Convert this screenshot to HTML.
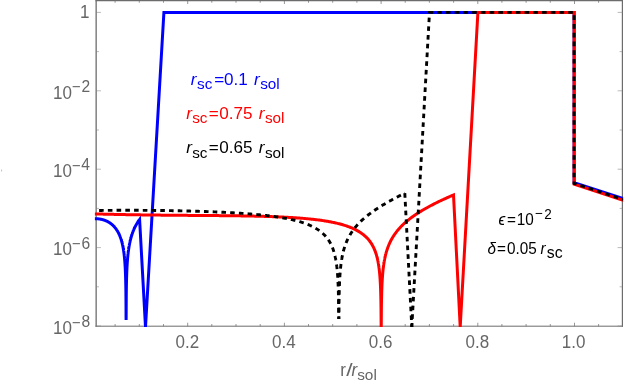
<!DOCTYPE html>
<html><head><meta charset="utf-8">
<style>
html,body{margin:0;padding:0;background:#fff;}
svg{display:block;font-family:"Liberation Sans",sans-serif;}
</style></head><body>
<svg width="629" height="384" viewBox="0 0 629 384">
<rect width="629" height="384" fill="#fff"/>
<defs><filter id="tf" x="0" y="0" width="629" height="384" filterUnits="userSpaceOnUse" color-interpolation-filters="sRGB"><feOffset dx="0" dy="0"/></filter><clipPath id="c"><rect x="94.80000000000001" y="0.0" width="528.3000000000001" height="327.1"/></clipPath></defs>
<g stroke="#6c6c6c" fill="none">
<line x1="96.15" y1="0" x2="96.15" y2="326.7" stroke-width="1.3"/>
<line x1="622.4" y1="0" x2="622.4" y2="326.7" stroke-width="1.2"/>
<line x1="95.5" y1="0.55" x2="623" y2="0.55" stroke-width="1.2"/>
<line x1="95.5" y1="326.2" x2="623" y2="326.2" stroke-width="1.0"/>
</g>
<path d="M115.1 326.2 v-2.2 M115.1 0.55 v2.2 M139.3 326.2 v-2.2 M139.3 0.55 v2.2 M163.5 326.2 v-2.2 M163.5 0.55 v2.2 M187.7 326.2 v-3.5 M187.7 0.55 v3.5 M211.8 326.2 v-2.2 M211.8 0.55 v2.2 M236.0 326.2 v-2.2 M236.0 0.55 v2.2 M260.2 326.2 v-2.2 M260.2 0.55 v2.2 M284.4 326.2 v-3.5 M284.4 0.55 v3.5 M308.5 326.2 v-2.2 M308.5 0.55 v2.2 M332.7 326.2 v-2.2 M332.7 0.55 v2.2 M356.9 326.2 v-2.2 M356.9 0.55 v2.2 M381.1 326.2 v-3.5 M381.1 0.55 v3.5 M405.2 326.2 v-2.2 M405.2 0.55 v2.2 M429.4 326.2 v-2.2 M429.4 0.55 v2.2 M453.6 326.2 v-2.2 M453.6 0.55 v2.2 M477.8 326.2 v-3.5 M477.8 0.55 v3.5 M501.9 326.2 v-2.2 M501.9 0.55 v2.2 M526.1 326.2 v-2.2 M526.1 0.55 v2.2 M550.3 326.2 v-2.2 M550.3 0.55 v2.2 M574.5 326.2 v-3.5 M574.5 0.55 v3.5 M598.6 326.2 v-2.2 M598.6 0.55 v2.2" stroke="#6c6c6c" stroke-width="0.7" fill="none"/>
<path d="M96.15 12.4 h4.8 M622.4 12.4 h-4.8 M96.15 51.6 h2.8 M622.4 51.6 h-2.8 M96.15 90.8 h4.8 M622.4 90.8 h-4.8 M96.15 130.0 h2.8 M622.4 130.0 h-2.8 M96.15 169.2 h4.8 M622.4 169.2 h-4.8 M96.15 208.4 h2.8 M622.4 208.4 h-2.8 M96.15 247.6 h4.8 M622.4 247.6 h-4.8 M96.15 286.8 h2.8 M622.4 286.8 h-2.8 M96.15 326.0 h4.8 M622.4 326.0 h-4.8" stroke="#808080" stroke-width="0.55" fill="none"/>
<g clip-path="url(#c)" fill="none" stroke-linejoin="miter" stroke-miterlimit="6">
<polyline points="94.50,218.66 94.61,218.66 94.73,218.66 94.84,218.66 94.95,218.66 95.07,218.66 95.18,218.66 95.29,218.66 95.40,218.66 95.52,218.67 95.63,218.67 95.74,218.67 95.86,218.68 95.97,218.68 96.08,218.69 96.20,218.69 96.31,218.70 96.42,218.70 96.53,218.71 96.65,218.71 96.76,218.72 96.87,218.73 96.99,218.73 97.10,218.74 97.21,218.75 97.33,218.76 97.44,218.77 97.55,218.78 97.66,218.79 97.78,218.80 97.89,218.81 98.00,218.82 98.12,218.83 98.23,218.84 98.34,218.86 98.46,218.87 98.57,218.88 98.68,218.90 98.80,218.91 98.91,218.92 99.02,218.94 99.13,218.95 99.25,218.97 99.36,218.99 99.47,219.00 99.59,219.02 99.70,219.04 99.81,219.06 99.93,219.07 100.04,219.09 100.15,219.11 100.26,219.13 100.38,219.15 100.49,219.17 100.60,219.19 100.72,219.22 100.83,219.24 100.94,219.26 101.06,219.28 101.17,219.31 101.28,219.33 101.39,219.36 101.51,219.38 101.62,219.41 101.73,219.43 101.85,219.46 101.96,219.49 102.07,219.51 102.19,219.54 102.30,219.57 102.41,219.60 102.53,219.63 102.64,219.66 102.75,219.69 102.86,219.72 102.98,219.75 103.09,219.79 103.20,219.82 103.32,219.85 103.43,219.89 103.54,219.92 103.66,219.96 103.77,219.99 103.88,220.03 103.99,220.06 104.11,220.10 104.22,220.14 104.33,220.18 104.45,220.22 104.56,220.26 104.67,220.30 104.79,220.34 104.90,220.38 105.01,220.42 105.13,220.47 105.24,220.51 105.35,220.55 105.46,220.60 105.58,220.64 105.69,220.69 105.80,220.74 105.92,220.78 106.03,220.83 106.14,220.88 106.26,220.93 106.37,220.98 106.48,221.03 106.59,221.08 106.71,221.13 106.82,221.19 106.93,221.24 107.05,221.29 107.16,221.35 107.27,221.41 107.39,221.46 107.50,221.52 107.61,221.58 107.72,221.64 107.84,221.70 107.95,221.76 108.06,221.82 108.18,221.88 108.29,221.94 108.40,222.01 108.52,222.07 108.63,222.14 108.74,222.20 108.86,222.27 108.97,222.34 109.08,222.41 109.19,222.48 109.31,222.55 109.42,222.62 109.53,222.69 109.65,222.76 109.76,222.84 109.87,222.91 109.99,222.99 110.10,223.07 110.21,223.15 110.32,223.22 110.44,223.30 110.55,223.39 110.66,223.47 110.78,223.55 110.89,223.64 111.00,223.72 111.12,223.81 111.23,223.90 111.34,223.98 111.45,224.07 111.57,224.17 111.68,224.26 111.79,224.35 111.91,224.45 112.02,224.54 112.13,224.64 112.25,224.74 112.36,224.84 112.47,224.94 112.59,225.04 112.70,225.14 112.81,225.25 112.92,225.35 113.04,225.46 113.15,225.57 113.26,225.68 113.38,225.79 113.49,225.91 113.60,226.02 113.72,226.14 113.83,226.26 113.94,226.37 114.05,226.50 114.17,226.62 114.28,226.74 114.39,226.87 114.51,227.00 114.62,227.13 114.73,227.26 114.85,227.39 114.96,227.53 115.07,227.66 115.18,227.80 115.30,227.94 115.41,228.09 115.52,228.23 115.64,228.38 115.75,228.53 115.86,228.68 115.98,228.83 116.09,228.99 116.20,229.15 116.32,229.31 116.43,229.47 116.54,229.63 116.65,229.80 116.77,229.97 116.88,230.15 116.99,230.32 117.11,230.50 117.22,230.68 117.33,230.86 117.45,231.05 117.56,231.24 117.67,231.44 117.78,231.63 117.90,231.83 118.01,232.03 118.12,232.24 118.24,232.45 118.35,232.67 118.46,232.88 118.58,233.10 118.69,233.33 118.80,233.56 118.92,233.79 119.03,234.03 119.14,234.27 119.25,234.52 119.37,234.77 119.48,235.03 119.59,235.29 119.71,235.56 119.82,235.83 119.93,236.11 120.05,236.39 120.16,236.69 120.27,236.98 120.38,237.29 120.50,237.60 120.61,237.91 120.72,238.24 120.84,238.57 120.95,238.91 121.06,239.26 121.18,239.61 121.26,239.90 121.29,239.98 121.31,240.06 121.36,240.22 121.40,240.36 121.41,240.38 121.46,240.55 121.51,240.71 121.51,240.74 121.56,240.88 121.60,241.05 121.63,241.14 121.65,241.22 121.70,241.40 121.74,241.55 121.75,241.57 121.80,241.75 121.85,241.93 121.85,241.96 121.89,242.11 121.94,242.30 121.97,242.40 121.99,242.49 122.04,242.68 122.08,242.84 122.09,242.87 122.14,243.06 122.18,243.26 122.19,243.30 122.23,243.46 122.28,243.66 122.31,243.77 122.33,243.86 122.38,244.07 122.42,244.26 122.43,244.28 122.47,244.50 122.52,244.71 122.53,244.76 122.57,244.93 122.62,245.16 122.65,245.28 122.67,245.38 122.72,245.61 122.76,245.82 122.76,245.85 122.81,246.08 122.86,246.32 122.87,246.38 122.91,246.57 122.96,246.82 122.98,246.96 123.01,247.07 123.05,247.33 123.10,247.56 123.10,247.59 123.15,247.85 123.20,248.12 123.21,248.19 123.25,248.40 123.30,248.68 123.32,248.84 123.34,248.96 123.39,249.25 123.44,249.52 123.44,249.55 123.49,249.85 123.54,250.15 123.55,250.23 123.59,250.47 123.63,250.79 123.66,250.98 123.68,251.11 123.73,251.44 123.78,251.76 123.78,251.78 123.83,252.13 123.88,252.49 123.89,252.58 123.92,252.85 123.97,253.22 124.00,253.45 124.02,253.60 124.07,253.99 124.11,254.36 124.12,254.39 124.17,254.80 124.21,255.22 124.23,255.34 124.26,255.65 124.31,256.09 124.34,256.37 124.36,256.55 124.41,257.02 124.45,257.48 124.46,257.50 124.50,258.00 124.55,258.51 124.57,258.66 124.60,259.04 124.65,259.59 124.68,259.94 124.70,260.16 124.75,260.74 124.79,261.33 124.79,261.35 124.84,261.98 124.89,262.64 124.91,262.84 124.94,263.32 124.99,264.04 125.02,264.51 125.04,264.79 125.08,265.57 125.13,266.37 125.13,266.39 125.18,267.25 125.23,268.16 125.24,268.46 125.28,269.12 125.33,270.14 125.36,270.85 125.37,271.23 125.42,272.40 125.47,273.63 125.47,273.65 125.52,275.00 125.57,276.47 125.58,276.98 125.62,278.08 125.66,279.87 125.70,281.17 125.71,281.86 125.76,284.13 125.81,286.74 125.81,286.75 125.86,289.83 125.91,293.62 125.92,295.13 125.95,298.51 126.00,305.40 126.04,312.45 126.05,317.19 126.10,320.00 126.10,320.00 126.15,317.17 126.15,316.90 126.20,305.36 126.25,298.45 126.26,296.55 126.29,293.54 126.34,289.73 126.38,287.52 126.39,286.62 126.44,283.99 126.49,281.70 126.49,281.64 126.54,279.69 126.58,277.89 126.60,277.27 126.63,276.25 126.68,274.76 126.71,273.78 126.73,273.39 126.78,272.12 126.83,270.93 126.83,270.89 126.87,269.83 126.92,268.78 126.94,268.40 126.97,267.80 127.02,266.87 127.05,266.23 127.07,265.99 127.12,265.15 127.16,264.35 127.17,264.30 127.21,263.58 127.26,262.85 127.28,262.57 127.31,262.14 127.36,261.47 127.39,260.99 127.41,260.81 127.45,260.19 127.50,259.58 127.51,259.54 127.55,258.99 127.60,258.43 127.62,258.20 127.65,257.88 127.70,257.34 127.73,256.96 127.74,256.83 127.79,256.32 127.84,255.83 127.84,255.79 127.89,255.36 127.94,254.90 127.96,254.70 127.99,254.44 128.03,254.00 128.07,253.68 128.08,253.58 128.13,253.16 128.18,252.75 128.18,252.71 128.23,252.35 128.28,251.96 128.30,251.79 128.32,251.57 128.37,251.20 128.41,250.91 128.42,250.83 128.47,250.47 128.52,250.12 128.52,250.08 128.57,249.77 128.61,249.43 128.64,249.28 128.66,249.10 128.71,248.77 128.75,248.52 128.76,248.45 128.81,248.14 128.86,247.83 128.86,247.79 128.90,247.52 128.95,247.22 128.97,247.09 129.00,246.93 129.05,246.64 129.09,246.41 129.10,246.35 129.15,246.07 129.19,245.80 129.20,245.76 129.24,245.52 129.29,245.26 129.31,245.13 129.34,244.99 129.39,244.73 129.43,244.52 129.44,244.47 129.48,244.22 129.53,243.97 129.54,243.93 129.58,243.72 129.63,243.48 129.65,243.36 129.68,243.24 129.73,243.01 129.77,242.81 129.77,242.77 129.82,242.54 129.87,242.31 129.88,242.28 129.92,242.09 129.97,241.87 129.99,241.76 130.02,241.65 130.06,241.43 130.11,241.25 130.11,241.22 130.16,241.00 130.21,240.80 130.22,240.76 130.26,240.59 130.31,240.38 130.33,240.28 130.35,240.18 130.40,239.98 130.44,239.81 130.45,239.78 130.50,239.59 130.55,239.39 130.56,239.36 130.60,239.20 130.64,239.01 130.67,238.91 130.69,238.82 130.74,238.64 130.78,238.48 130.79,238.45 130.84,238.27 130.89,238.09 130.90,238.06 130.94,237.91 131.01,237.64 131.12,237.24 131.24,236.84 131.35,236.45 131.46,236.07 131.57,235.70 131.69,235.34 131.80,234.98 131.91,234.63 132.03,234.29 132.14,233.95 132.25,233.62 132.37,233.29 132.48,232.97 132.59,232.66 132.71,232.35 132.82,232.04 132.93,231.74 133.04,231.45 133.16,231.16 133.27,230.88 133.38,230.59 133.50,230.32 133.61,230.05 133.72,229.78 133.84,229.51 133.95,229.25 134.06,228.99 134.17,228.74 134.29,228.49 134.40,228.24 134.51,228.00 134.63,227.76 134.74,227.52 134.85,227.29 134.97,227.06 135.08,226.83 135.19,226.60 135.30,226.38 135.42,226.16 135.53,225.95 135.64,225.73 135.76,225.52 135.87,225.31 135.98,225.10 136.10,224.90 136.21,224.69 136.32,224.49 136.44,224.30 136.55,224.10 136.66,223.91 136.77,223.71 136.89,223.52 137.00,223.34 137.11,223.15 137.23,222.97 137.34,222.79 137.45,222.61 137.57,222.43 137.68,222.25 137.79,222.08 137.90,221.90 138.02,221.73 138.13,221.56 138.24,221.40 138.36,221.23 138.47,221.06 138.58,220.90 138.70,220.74 138.81,220.58 138.92,220.42 139.03,220.26 139.15,220.11 139.26,219.95 139.37,219.80 139.49,219.65 139.60,219.50 145.50,326.80 163.90,12.40 574.10,12.40 574.10,182.60 624.00,198.90" stroke="#0000ff" stroke-width="3.0"/>
<polyline points="94.50,213.89 95.40,213.91 96.30,213.94 97.20,213.96 98.10,213.99 99.00,214.01 99.90,214.04 100.80,214.06 101.70,214.09 102.60,214.11 103.50,214.13 104.40,214.16 105.30,214.18 106.20,214.20 107.10,214.22 108.00,214.24 108.90,214.27 109.80,214.29 110.70,214.31 111.60,214.33 112.49,214.35 113.39,214.37 114.29,214.39 115.19,214.41 116.09,214.43 116.99,214.45 117.89,214.47 118.79,214.49 119.69,214.51 120.59,214.52 121.49,214.54 122.39,214.56 123.29,214.58 124.19,214.59 125.09,214.61 125.99,214.63 126.89,214.65 127.79,214.66 128.69,214.68 129.59,214.69 130.49,214.71 131.39,214.73 132.29,214.74 133.19,214.76 134.09,214.77 134.99,214.79 135.89,214.80 136.79,214.81 137.69,214.83 138.59,214.84 139.49,214.86 140.39,214.87 141.29,214.88 142.19,214.90 143.09,214.91 143.99,214.92 144.89,214.94 145.79,214.95 146.69,214.96 147.59,214.97 148.48,214.98 149.38,215.00 150.28,215.01 151.18,215.02 152.08,215.03 152.98,215.04 153.88,215.05 154.78,215.06 155.68,215.07 156.58,215.08 157.48,215.09 158.38,215.10 159.28,215.11 160.18,215.12 161.08,215.13 161.98,215.14 162.88,215.15 163.78,215.16 164.68,215.17 165.58,215.18 166.48,215.19 167.38,215.20 168.28,215.21 169.18,215.22 170.08,215.22 170.98,215.23 171.88,215.24 172.78,215.25 173.68,215.26 174.58,215.26 175.48,215.27 176.38,215.28 177.28,215.29 178.18,215.30 179.08,215.30 179.98,215.31 180.88,215.32 181.78,215.33 182.68,215.33 183.58,215.34 184.47,215.35 185.37,215.35 186.27,215.36 187.17,215.37 188.07,215.38 188.97,215.38 189.87,215.39 190.77,215.40 191.67,215.40 192.57,215.41 193.47,215.42 194.37,215.42 195.27,215.43 196.17,215.44 197.07,215.44 197.97,215.45 198.87,215.46 199.77,215.46 200.67,215.47 201.57,215.48 202.47,215.49 203.37,215.49 204.27,215.50 205.17,215.51 206.07,215.51 206.97,215.52 207.87,215.53 208.77,215.53 209.67,215.54 210.57,215.55 211.47,215.56 212.37,215.56 213.27,215.57 214.17,215.58 215.07,215.59 215.97,215.60 216.87,215.60 217.77,215.61 218.67,215.62 219.57,215.63 220.46,215.64 221.36,215.64 222.26,215.65 223.16,215.66 224.06,215.67 224.96,215.68 225.86,215.69 226.76,215.70 227.66,215.71 228.56,215.72 229.46,215.73 230.36,215.74 231.26,215.75 232.16,215.76 233.06,215.77 233.96,215.78 234.86,215.80 235.76,215.81 236.66,215.82 237.56,215.83 238.46,215.85 239.36,215.86 240.26,215.87 241.16,215.89 242.06,215.90 242.96,215.91 243.86,215.93 244.76,215.94 245.66,215.96 246.56,215.97 247.46,215.99 248.36,216.01 249.26,216.02 250.16,216.04 251.06,216.06 251.96,216.08 252.86,216.10 253.76,216.11 254.66,216.13 255.56,216.15 256.45,216.18 257.35,216.20 258.25,216.22 259.15,216.24 260.05,216.26 260.95,216.29 261.85,216.31 262.75,216.33 263.65,216.36 264.55,216.38 265.45,216.41 266.35,216.44 267.25,216.47 268.15,216.49 269.05,216.52 269.95,216.55 270.85,216.58 271.75,216.61 272.65,216.65 273.55,216.68 274.45,216.71 275.35,216.75 276.25,216.78 277.15,216.82 278.05,216.86 278.95,216.89 279.85,216.93 280.75,216.97 281.65,217.01 282.55,217.06 283.45,217.10 284.35,217.14 285.25,217.19 286.15,217.24 287.05,217.28 287.95,217.33 288.85,217.38 289.75,217.43 290.65,217.49 291.55,217.54 292.44,217.60 293.34,217.65 294.24,217.71 295.14,217.77 296.04,217.83 296.94,217.89 297.84,217.96 298.74,218.02 299.64,218.09 300.54,218.16 301.44,218.23 302.34,218.30 303.24,218.38 304.14,218.46 305.04,218.53 305.94,218.62 306.84,218.70 307.74,218.78 308.64,218.87 309.54,218.96 310.44,219.05 311.34,219.14 312.24,219.24 313.14,219.34 314.04,219.44 314.94,219.55 315.84,219.65 316.74,219.76 317.64,219.88 318.54,219.99 319.44,220.11 320.34,220.24 321.24,220.36 322.14,220.49 323.04,220.62 323.94,220.76 324.84,220.90 325.74,221.05 326.64,221.19 327.54,221.35 328.43,221.51 329.33,221.67 330.23,221.83 331.13,222.01 332.03,222.18 332.93,222.37 333.83,222.55 334.73,222.75 335.63,222.95 336.53,223.15 337.43,223.37 338.33,223.59 339.23,223.81 340.13,224.05 341.03,224.29 341.93,224.54 342.83,224.80 343.73,225.07 344.63,225.34 345.53,225.63 346.43,225.93 347.33,226.24 348.23,226.56 349.13,226.89 350.03,227.24 350.93,227.60 351.83,227.97 352.73,228.36 353.63,228.77 354.53,229.20 355.43,229.64 356.33,230.10 357.23,230.59 358.13,231.10 359.03,231.64 359.93,232.20 360.83,232.79 361.73,233.42 362.63,234.08 363.53,234.78 364.42,235.53 365.32,236.32 366.22,237.17 367.12,238.08 368.02,239.06 368.92,240.12 369.82,241.27 370.72,242.53 371.62,243.91 372.52,245.45 373.42,247.16 374.32,249.11 375.22,251.35 376.12,253.98 376.36,254.77 376.41,254.94 376.46,255.10 376.51,255.27 376.56,255.44 376.61,255.61 376.66,255.78 376.70,255.95 376.75,256.13 376.80,256.31 376.85,256.49 376.90,256.67 376.95,256.86 376.99,257.04 377.02,257.15 377.04,257.23 377.09,257.42 377.14,257.62 377.19,257.81 377.24,258.01 377.28,258.21 377.33,258.41 377.38,258.62 377.43,258.83 377.48,259.04 377.53,259.26 377.57,259.47 377.62,259.69 377.67,259.92 377.72,260.14 377.77,260.37 377.82,260.61 377.86,260.84 377.91,261.09 377.92,261.13 377.96,261.33 378.01,261.58 378.06,261.83 378.11,262.09 378.15,262.35 378.20,262.61 378.25,262.88 378.30,263.15 378.35,263.43 378.40,263.71 378.44,264.00 378.49,264.29 378.54,264.59 378.59,264.90 378.64,265.21 378.69,265.52 378.73,265.85 378.78,266.18 378.82,266.44 378.83,266.51 378.88,266.86 378.93,267.21 378.98,267.56 379.02,267.93 379.07,268.30 379.12,268.69 379.17,269.08 379.22,269.48 379.27,269.90 379.31,270.32 379.36,270.75 379.41,271.20 379.46,271.66 379.51,272.13 379.56,272.61 379.60,273.11 379.65,273.63 379.70,274.16 379.72,274.38 379.75,274.71 379.80,275.28 379.85,275.87 379.89,276.48 379.94,277.12 379.99,277.78 380.04,278.46 380.09,279.18 380.14,279.93 380.18,280.71 380.23,281.54 380.28,282.40 380.33,283.31 380.38,284.28 380.43,285.30 380.47,286.39 380.52,287.56 380.57,288.81 380.62,290.17 380.62,290.18 380.67,291.64 380.72,293.26 380.76,295.04 380.81,297.04 380.86,299.30 380.91,301.92 380.96,305.02 381.01,308.81 381.05,313.70 381.10,320.59 381.15,326.90 381.25,326.90 381.30,320.56 381.35,313.65 381.39,308.74 381.44,304.94 381.49,301.82 381.52,300.15 381.54,299.19 381.59,296.91 381.64,294.90 381.68,293.09 381.73,291.46 381.78,289.97 381.83,288.60 381.88,287.33 381.93,286.15 381.97,285.05 382.02,284.00 382.07,283.02 382.12,282.10 382.17,281.21 382.22,280.38 382.26,279.58 382.31,278.81 382.36,278.08 382.41,277.37 382.42,277.22 382.46,276.70 382.51,276.05 382.55,275.42 382.60,274.82 382.65,274.23 382.70,273.66 382.75,273.12 382.80,272.58 382.84,272.07 382.89,271.57 382.94,271.08 382.99,270.60 383.04,270.14 383.09,269.69 383.13,269.25 383.18,268.82 383.23,268.41 383.28,268.00 383.32,267.66 383.33,267.60 383.38,267.21 383.42,266.82 383.47,266.45 383.52,266.08 383.57,265.72 383.62,265.37 383.67,265.03 383.71,264.69 383.76,264.36 383.81,264.03 383.86,263.71 383.91,263.39 383.96,263.09 384.00,262.78 384.05,262.48 384.10,262.19 384.15,261.90 384.20,261.61 384.22,261.49 384.25,261.33 384.29,261.06 384.34,260.78 384.39,260.52 384.44,260.25 384.49,259.99 384.54,259.74 384.58,259.48 384.63,259.23 384.68,258.99 384.73,258.74 384.78,258.50 384.83,258.27 384.87,258.03 384.92,257.80 384.97,257.58 385.02,257.35 385.07,257.13 385.12,256.91 385.12,256.90 385.16,256.69 385.21,256.48 385.26,256.27 385.31,256.06 385.36,255.85 385.41,255.64 385.45,255.44 385.50,255.24 385.55,255.04 385.60,254.85 385.65,254.65 385.70,254.46 385.74,254.27 385.79,254.08 385.84,253.89 385.89,253.71 385.94,253.53 385.99,253.35 386.02,253.23 386.03,253.17 386.92,250.16 387.82,247.52 388.72,245.20 389.62,243.12 390.52,241.24 391.42,239.52 392.32,237.93 393.22,236.45 394.12,235.07 395.02,233.77 395.92,232.54 396.82,231.37 397.72,230.27 398.62,229.21 399.52,228.19 400.41,227.22 401.31,226.29 402.21,225.38 403.11,224.51 404.01,223.67 404.91,222.86 405.81,222.06 406.71,221.29 407.61,220.55 408.51,219.82 409.41,219.11 410.31,218.41 411.21,217.73 412.11,217.07 413.01,216.42 413.91,215.79 414.81,215.17 415.71,214.55 416.61,213.96 417.51,213.37 418.41,212.79 419.31,212.22 420.21,211.66 421.11,211.11 422.01,210.57 422.91,210.03 423.81,209.50 424.71,208.98 425.61,208.47 426.51,207.97 427.41,207.47 428.31,206.97 429.21,206.48 430.11,206.00 431.01,205.53 431.91,205.06 432.81,204.59 433.71,204.13 434.61,203.67 435.51,203.22 436.40,202.77 437.30,202.33 438.20,201.89 439.10,201.46 440.00,201.02 440.90,200.60 441.80,200.17 442.70,199.75 443.60,199.33 444.50,198.92 445.40,198.51 446.30,198.10 447.20,197.70 448.10,197.30 449.00,196.90 449.90,196.50 450.80,196.11 451.70,195.71 452.60,195.33 453.50,194.94 460.20,326.90 477.90,12.40 574.10,12.40 574.10,184.20 624.00,200.50" stroke="#ff0000" stroke-width="3.0"/>
<polyline points="96.40,210.49 97.17,210.48 97.95,210.47 98.72,210.46 99.49,210.45 100.26,210.45 101.04,210.44 101.81,210.43 102.58,210.42 103.36,210.41 104.13,210.41 104.90,210.40 105.68,210.39 106.45,210.38 107.22,210.38 107.99,210.37 108.77,210.37 109.54,210.36 110.31,210.35 111.09,210.35 111.86,210.34 112.63,210.34 113.40,210.33 114.18,210.33 114.95,210.33 115.72,210.32 116.50,210.32 117.27,210.32 118.04,210.31 118.82,210.31 119.59,210.31 120.36,210.30 121.13,210.30 121.91,210.30 122.68,210.30 123.45,210.30 124.23,210.30 125.00,210.29 125.77,210.29 126.54,210.29 127.32,210.29 128.09,210.29 128.86,210.29 129.64,210.29 130.41,210.29 131.18,210.29 131.95,210.30 132.73,210.30 133.50,210.30 134.27,210.30 135.05,210.30 135.82,210.30 136.59,210.31 137.37,210.31 138.14,210.31 138.91,210.32 139.68,210.32 140.46,210.32 141.23,210.33 142.00,210.33 142.78,210.34 143.55,210.34 144.32,210.34 145.09,210.35 145.87,210.35 146.64,210.36 147.41,210.37 148.19,210.37 148.96,210.38 149.73,210.38 150.51,210.39 151.28,210.40 152.05,210.41 152.82,210.41 153.60,210.42 154.37,210.43 155.14,210.44 155.92,210.44 156.69,210.45 157.46,210.46 158.23,210.47 159.01,210.48 159.78,210.49 160.55,210.50 161.33,210.51 162.10,210.52 162.87,210.53 163.65,210.54 164.42,210.55 165.19,210.56 165.96,210.57 166.74,210.59 167.51,210.60 168.28,210.61 169.06,210.62 169.83,210.64 170.60,210.65 171.37,210.66 172.15,210.68 172.92,210.69 173.69,210.70 174.47,210.72 175.24,210.73 176.01,210.75 176.78,210.76 177.56,210.78 178.33,210.79 179.10,210.81 179.88,210.82 180.65,210.84 181.42,210.86 182.20,210.88 182.97,210.89 183.74,210.91 184.51,210.93 185.29,210.95 186.06,210.96 186.83,210.98 187.61,211.00 188.38,211.02 189.15,211.04 189.92,211.06 190.70,211.08 191.47,211.10 192.24,211.12 193.02,211.14 193.79,211.17 194.56,211.19 195.34,211.21 196.11,211.23 196.88,211.26 197.65,211.28 198.43,211.30 199.20,211.33 199.97,211.35 200.75,211.37 201.52,211.40 202.29,211.42 203.06,211.45 203.84,211.48 204.61,211.50 205.38,211.53 206.16,211.56 206.93,211.58 207.70,211.61 208.48,211.64 209.25,211.67 210.02,211.70 210.79,211.73 211.57,211.76 212.34,211.79 213.11,211.82 213.89,211.85 214.66,211.88 215.43,211.91 216.20,211.95 216.98,211.98 217.75,212.01 218.52,212.05 219.30,212.08 220.07,212.12 220.84,212.15 221.62,212.19 222.39,212.22 223.16,212.26 223.93,212.30 224.71,212.34 225.48,212.38 226.25,212.41 227.03,212.45 227.80,212.49 228.57,212.54 229.34,212.58 230.12,212.62 230.89,212.66 231.66,212.71 232.44,212.75 233.21,212.79 233.98,212.84 234.75,212.88 235.53,212.93 236.30,212.98 237.07,213.03 237.85,213.08 238.62,213.12 239.39,213.17 240.17,213.23 240.94,213.28 241.71,213.33 242.48,213.38 243.26,213.44 244.03,213.49 244.80,213.55 245.58,213.60 246.35,213.66 247.12,213.72 247.89,213.78 248.67,213.84 249.44,213.90 250.21,213.96 250.99,214.03 251.76,214.09 252.53,214.15 253.31,214.22 254.08,214.29 254.85,214.36 255.62,214.43 256.40,214.50 257.17,214.57 257.94,214.64 258.72,214.72 259.49,214.79 260.26,214.87 261.03,214.95 261.81,215.03 262.58,215.11 263.35,215.19 264.13,215.27 264.90,215.36 265.67,215.45 266.45,215.53 267.22,215.62 267.99,215.72 268.76,215.81 269.54,215.90 270.31,216.00 271.08,216.10 271.86,216.20 272.63,216.30 273.40,216.41 274.17,216.51 274.95,216.62 275.72,216.73 276.49,216.84 277.27,216.96 278.04,217.08 278.81,217.20 279.58,217.32 280.36,217.44 281.13,217.57 281.90,217.70 282.68,217.83 283.45,217.97 284.22,218.11 285.00,218.25 285.77,218.39 286.54,218.54 287.31,218.69 288.09,218.85 288.86,219.01 289.63,219.17 290.41,219.33 291.18,219.50 291.95,219.68 292.72,219.86 293.50,220.04 294.27,220.22 295.04,220.42 295.82,220.61 296.59,220.81 297.36,221.02 298.14,221.23 298.91,221.45 299.68,221.68 300.45,221.91 301.23,222.14 302.00,222.39 302.77,222.64 303.55,222.90 304.32,223.16 305.09,223.44 305.86,223.72 306.64,224.01 307.41,224.31 308.18,224.62 308.96,224.94 309.73,225.27 310.50,225.62 311.28,225.97 312.05,226.34 312.82,226.72 313.59,227.12 314.37,227.53 315.14,227.96 315.91,228.41 316.69,228.88 317.46,229.36 318.23,229.87 319.00,230.40 319.78,230.96 320.55,231.55 321.32,232.16 322.10,232.81 322.87,233.49 323.64,234.22 324.42,234.98 325.19,235.80 325.96,236.67 326.73,237.60 327.51,238.60 328.28,239.69 329.05,240.86 329.83,242.14 330.60,243.54 331.37,245.10 332.14,246.84 332.92,248.81 333.69,251.08 333.96,251.98 334.01,252.14 334.06,252.31 334.11,252.47 334.16,252.64 334.21,252.81 334.26,252.98 334.30,253.16 334.35,253.33 334.40,253.51 334.45,253.69 334.46,253.74 334.50,253.87 334.55,254.06 334.59,254.24 334.64,254.43 334.69,254.62 334.74,254.82 334.79,255.01 334.84,255.21 334.88,255.41 334.93,255.61 334.98,255.82 335.03,256.03 335.08,256.24 335.13,256.45 335.17,256.67 335.22,256.89 335.24,256.96 335.27,257.12 335.32,257.34 335.37,257.57 335.42,257.81 335.46,258.04 335.51,258.28 335.56,258.53 335.61,258.77 335.66,259.03 335.71,259.28 335.75,259.54 335.80,259.81 335.85,260.07 335.90,260.35 335.95,260.63 336.00,260.91 336.01,260.99 336.04,261.20 336.09,261.49 336.14,261.79 336.19,262.09 336.24,262.40 336.29,262.72 336.33,263.04 336.38,263.37 336.43,263.70 336.48,264.05 336.53,264.40 336.58,264.76 336.62,265.12 336.67,265.50 336.72,265.88 336.77,266.27 336.78,266.38 336.82,266.67 336.87,267.09 336.91,267.51 336.96,267.94 337.01,268.39 337.06,268.85 337.11,269.32 337.16,269.80 337.20,270.30 337.25,270.82 337.30,271.35 337.35,271.90 337.40,272.47 337.45,273.06 337.49,273.67 337.54,274.30 337.55,274.46 337.59,274.96 337.64,275.65 337.69,276.37 337.74,277.11 337.78,277.90 337.83,278.72 337.88,279.59 337.93,280.50 337.98,281.46 338.03,282.49 338.07,283.58 338.12,284.74 338.17,286.00 338.22,287.35 338.27,288.82 338.32,290.44 338.33,290.84 338.36,292.22 338.41,294.22 338.46,296.48 338.51,299.10 338.56,302.20 338.61,305.99 338.65,310.88 338.70,317.77 338.75,319.00" stroke="#000" stroke-width="2.9" stroke-dasharray="4.6 4.14" stroke-dashoffset="6.04"/>
<polyline points="404.80,193.17 404.03,193.55 403.25,193.94 402.48,194.33 401.71,194.72 400.94,195.11 400.16,195.51 399.39,195.90 398.62,196.30 397.84,196.70 397.07,197.10 396.30,197.51 395.52,197.92 394.75,198.33 393.98,198.74 393.21,199.16 392.43,199.57 391.66,199.99 390.89,200.42 390.11,200.85 389.34,201.28 388.57,201.71 387.80,202.15 387.02,202.59 386.25,203.03 385.48,203.48 384.70,203.93 383.93,204.39 383.16,204.85 382.38,205.32 381.61,205.79 380.84,206.26 380.07,206.74 379.29,207.23 378.52,207.72 377.75,208.21 376.97,208.72 376.20,209.23 375.43,209.74 374.66,210.27 373.88,210.80 373.11,211.33 372.34,211.88 371.56,212.44 370.79,213.00 370.02,213.57 369.25,214.15 368.47,214.75 367.70,215.35 366.93,215.97 366.15,216.59 365.38,217.23 364.61,217.89 363.83,218.56 363.06,219.24 362.29,219.94 361.52,220.66 360.74,221.40 359.97,222.16 359.20,222.94 358.42,223.75 357.65,224.58 356.88,225.44 356.11,226.33 355.33,227.25 354.56,228.21 353.79,229.21 353.01,230.26 352.24,231.35 351.47,232.50 350.69,233.71 349.92,235.00 349.15,236.37 348.38,237.83 347.60,239.40 346.83,241.10 346.06,242.97 345.28,245.02 344.51,247.32 343.74,249.93 343.63,250.31 343.59,250.49 343.54,250.67 343.49,250.85 343.44,251.04 343.39,251.23 343.34,251.42 343.30,251.61 343.25,251.80 343.20,251.99 343.15,252.19 343.10,252.39 343.05,252.59 343.01,252.79 342.97,252.97 342.96,253.00 342.91,253.21 342.86,253.42 342.81,253.63 342.76,253.84 342.72,254.06 342.67,254.28 342.62,254.50 342.57,254.73 342.52,254.96 342.47,255.19 342.43,255.42 342.38,255.66 342.33,255.90 342.28,256.14 342.23,256.39 342.19,256.60 342.18,256.64 342.14,256.89 342.09,257.15 342.04,257.41 341.99,257.67 341.94,257.94 341.89,258.21 341.85,258.49 341.80,258.77 341.75,259.06 341.70,259.35 341.65,259.64 341.60,259.94 341.56,260.25 341.51,260.56 341.46,260.87 341.42,261.13 341.41,261.19 341.36,261.52 341.31,261.85 341.27,262.19 341.22,262.54 341.17,262.89 341.12,263.25 341.07,263.61 341.02,263.99 340.98,264.37 340.93,264.76 340.88,265.16 340.83,265.57 340.78,265.99 340.73,266.42 340.69,266.86 340.65,267.22 340.64,267.31 340.59,267.77 340.54,268.25 340.49,268.73 340.44,269.24 340.40,269.75 340.35,270.28 340.30,270.83 340.25,271.40 340.20,271.99 340.15,272.59 340.11,273.22 340.06,273.87 340.01,274.55 339.96,275.25 339.91,275.98 339.87,276.59 339.86,276.75 339.82,277.55 339.77,278.39 339.72,279.27 339.67,280.20 339.62,281.18 339.57,282.22 339.53,283.33 339.48,284.51 339.43,285.78 339.38,287.15 339.33,288.64 339.28,290.27 339.24,292.07 339.19,294.09 339.14,296.37 339.10,298.39 339.09,299.00 339.04,302.11 338.99,305.92 338.95,310.83 338.90,317.74 338.85,319.00" stroke="#000" stroke-width="2.9" stroke-dasharray="4.6 4.14" stroke-dashoffset="4.4"/>
<polyline points="404.80,193.17 411.80,327.00" stroke="#000" stroke-width="2.9" stroke-dasharray="4.6 4.14" stroke-dashoffset="0"/>
<polyline points="411.80,327.00 429.50,12.40 574.10,12.40 574.10,183.40 624.00,199.70" stroke="#000" stroke-width="2.9" stroke-dasharray="4.6 4.14" stroke-dashoffset="0.6"/>
</g>
<rect x="1" y="169.6" width="1.1" height="1.8" fill="#c4c4c4"/>
<g filter="url(#tf)" transform="rotate(0.01)">
<text transform="translate(79.93,18.00) scale(1.0,1.03)" fill="#666" font-size="17.00">1</text>
<text transform="translate(52.93,98.60) scale(1.0,1.03)" fill="#666" font-size="17.00">10</text>
<text transform="translate(71.85,92.40) scale(1.0,1.03)" fill="#666" font-size="15.00">−</text>
<text transform="translate(81.62,91.90) scale(1.0,1.03)" fill="#666" font-size="15.60">2</text>
<text transform="translate(52.93,177.00) scale(1.0,1.03)" fill="#666" font-size="17.00">10</text>
<text transform="translate(71.85,170.80) scale(1.0,1.03)" fill="#666" font-size="15.00">−</text>
<text transform="translate(81.31,170.30) scale(1.0,1.03)" fill="#666" font-size="15.60">4</text>
<text transform="translate(52.93,255.40) scale(1.0,1.03)" fill="#666" font-size="17.00">10</text>
<text transform="translate(71.85,249.20) scale(1.0,1.03)" fill="#666" font-size="15.00">−</text>
<text transform="translate(81.47,248.70) scale(1.0,1.03)" fill="#666" font-size="15.60">6</text>
<text transform="translate(52.93,333.80) scale(1.0,1.03)" fill="#666" font-size="17.00">10</text>
<text transform="translate(71.85,327.60) scale(1.0,1.03)" fill="#666" font-size="15.00">−</text>
<text transform="translate(81.47,327.10) scale(1.0,1.03)" fill="#666" font-size="15.60">8</text>
<text transform="translate(175.47,347.85) scale(1.0,1.03)" fill="#666" font-size="17.00">0.2</text>
<text transform="translate(272.00,347.85) scale(1.0,1.03)" fill="#666" font-size="17.00">0.4</text>
<text transform="translate(368.78,347.85) scale(1.0,1.03)" fill="#666" font-size="17.00">0.6</text>
<text transform="translate(465.49,347.85) scale(1.0,1.03)" fill="#666" font-size="17.00">0.8</text>
<text transform="translate(561.85,347.85) scale(1.0,1.03)" fill="#666" font-size="17.00">1.0</text>
<text transform="translate(340.19,375.60) scale(1.0,1.03)" fill="#666" font-size="17.00">r</text>
<text transform="translate(346.20,375.60) scale(1.35,1.03)" fill="#666" font-size="17.00">/</text>
<text transform="translate(351.55,375.60) scale(1.0,1.03)" fill="#666" font-size="17.00" font-style="italic">r</text>
<text transform="translate(357.14,380.30) scale(1.0,0.96)" fill="#666" font-size="15.40">sol</text>
<text transform="translate(190.74,84.60) scale(1.0,1.0)" fill="#0000ff" font-size="17.10" font-style="italic">r</text>
<text transform="translate(197.04,89.20) scale(1.0,1.0)" fill="#0000ff" font-size="15.30">sc</text>
<text transform="translate(214.34,84.60) scale(1.0,1.0)" fill="#0000ff" font-size="17.10">=</text>
<text transform="translate(224.02,84.60) scale(1.0,1.0)" fill="#0000ff" font-size="17.10">0.1</text>
<text transform="translate(253.94,84.60) scale(1.0,1.0)" fill="#0000ff" font-size="17.10" font-style="italic">r</text>
<text transform="translate(260.14,89.20) scale(1.0,1.0)" fill="#0000ff" font-size="15.30">sol</text>
<text transform="translate(186.34,118.70) scale(1.0,1.0)" fill="#ff0000" font-size="17.10" font-style="italic">r</text>
<text transform="translate(192.14,123.30) scale(1.0,1.0)" fill="#ff0000" font-size="15.30">sc</text>
<text transform="translate(208.84,118.70) scale(1.0,1.0)" fill="#ff0000" font-size="17.10">=</text>
<text transform="translate(219.22,118.70) scale(1.0,1.0)" fill="#ff0000" font-size="17.10">0.75</text>
<text transform="translate(258.74,118.70) scale(1.0,1.0)" fill="#ff0000" font-size="17.10" font-style="italic">r</text>
<text transform="translate(264.94,123.30) scale(1.0,1.0)" fill="#ff0000" font-size="15.30">sol</text>
<text transform="translate(186.34,153.10) scale(1.0,1.0)" fill="#000" font-size="17.10" font-style="italic">r</text>
<text transform="translate(192.14,157.70) scale(1.0,1.0)" fill="#000" font-size="15.30">sc</text>
<text transform="translate(208.84,153.10) scale(1.0,1.0)" fill="#000" font-size="17.10">=</text>
<text transform="translate(219.22,153.10) scale(1.0,1.0)" fill="#000" font-size="17.10">0.65</text>
<text transform="translate(258.74,153.10) scale(1.0,1.0)" fill="#000" font-size="17.10" font-style="italic">r</text>
<text transform="translate(264.94,157.70) scale(1.0,1.0)" fill="#000" font-size="15.30">sol</text>
<text transform="translate(498.44,225.30) scale(1.0,1.03)" fill="#000" font-size="15.30" font-style="italic">ϵ</text>
<text transform="translate(507.04,225.30) scale(1.0,1.03)" fill="#000" font-size="15.30">=</text>
<text transform="translate(516.75,225.30) scale(1.0,1.03)" fill="#000" font-size="15.30">10</text>
<text transform="translate(534.73,218.40) scale(1.0,1.03)" fill="#000" font-size="13.50">−</text>
<text transform="translate(544.18,218.60) scale(1.0,1.12)" fill="#000" font-size="13.50">2</text>
<text transform="translate(487.54,253.60) scale(1.0,1.03)" fill="#000" font-size="15.30" font-style="italic">δ</text>
<text transform="translate(496.94,253.60) scale(1.0,1.03)" fill="#000" font-size="15.30">=</text>
<text transform="translate(506.89,253.60) scale(1.0,1.03)" fill="#000" font-size="15.30">0.05</text>
<text transform="translate(540.47,253.60) scale(1.0,1.03)" fill="#000" font-size="15.30" font-style="italic">r</text>
<text transform="translate(546.83,257.60) scale(1.0,1.03)" fill="#000" font-size="15.77">sc</text>
</g>
</svg>
</body></html>
